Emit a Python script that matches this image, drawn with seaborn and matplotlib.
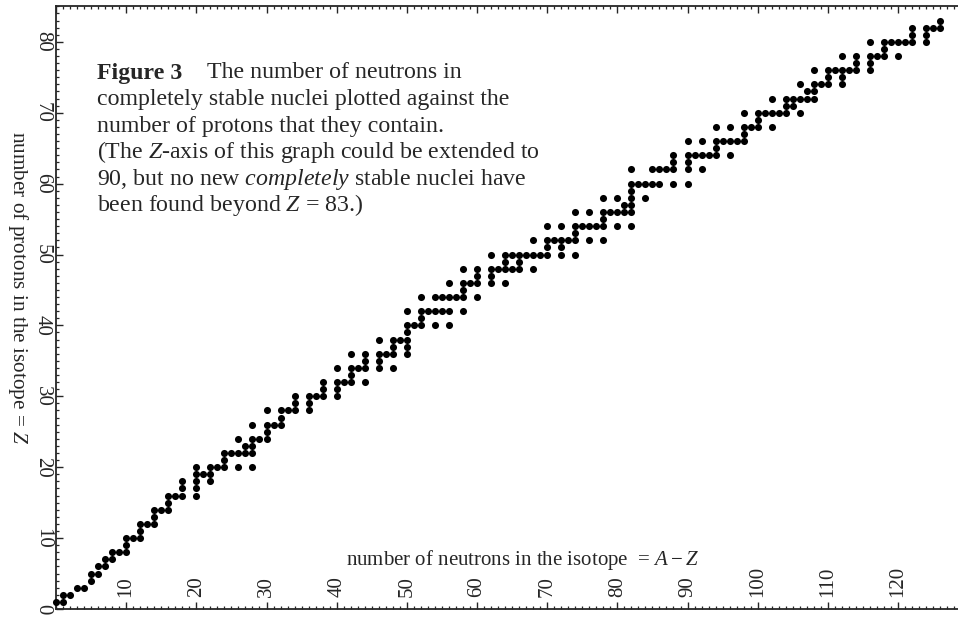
import matplotlib
matplotlib.use("Agg")
import matplotlib.pyplot as plt
from matplotlib.ticker import MultipleLocator
import pandas as pd
import seaborn as sns

sns.set_style("ticks")
plt.rcParams["font.family"] = ["Liberation Serif", "DejaVu Serif"]
plt.rcParams["mathtext.fontset"] = "custom"
plt.rcParams["mathtext.rm"] = "Liberation Serif"
plt.rcParams["mathtext.it"] = "Liberation Serif:italic"
plt.rcParams["mathtext.bf"] = "Liberation Serif:bold"

# ---------------------------------------------------------
# Data: proton number Z and the neutron numbers N of the
# (primordial) stable nuclei
# ---------------------------------------------------------
PROTONS = [1, 2, 3, 4, 5, 6, 7, 8, 9, 10, 11, 12, 13, 14, 15, 16, 17, 18, 19, 20,
           21, 22, 23, 24, 25, 26, 27, 28, 29, 30, 31, 32, 33, 34, 35, 36, 37, 38,
           39, 40, 41, 42, 44, 45, 46, 47, 48, 49, 50, 51, 52, 53, 54, 55, 56, 57,
           58, 59, 60, 62, 63, 64, 65, 66, 67, 68, 69, 70, 71, 72, 73, 74, 75, 76,
           77, 78, 79, 80, 81, 82, 83]

NEUTRONS = [
    [0, 1], [1, 2], [3, 4], [5], [5, 6], [6, 7], [7, 8], [8, 9, 10], [10],
    [10, 11, 12], [12], [12, 13, 14], [14], [14, 15, 16], [16], [16, 17, 18, 20],
    [18, 20], [18, 20, 22], [20, 21, 22], [20, 22, 23, 24, 26, 28],
    [24], [24, 25, 26, 27, 28], [27, 28], [26, 28, 29, 30], [30], [28, 30, 31, 32],
    [32], [30, 32, 33, 34, 36], [34, 36], [34, 36, 37, 38, 40], [38, 40],
    [38, 40, 41, 42, 44], [42], [40, 42, 43, 44, 46, 48], [44, 46],
    [42, 44, 46, 47, 48, 50], [48, 50], [46, 48, 49, 50],
    [50], [50, 51, 52, 54, 56], [52], [50, 52, 53, 54, 55, 56, 58],
    [52, 54, 55, 56, 57, 58, 60], [58], [56, 58, 59, 60, 62, 64], [60, 62],
    [58, 60, 62, 63, 64, 65, 66, 68], [64, 66],
    [62, 64, 65, 66, 67, 68, 69, 70, 72, 74], [70, 72],
    [68, 70, 71, 72, 73, 74, 76, 78], [74],
    [70, 72, 74, 75, 76, 77, 78, 80, 82], [78], [74, 76, 78, 79, 80, 81, 82], [81, 82],
    [78, 80, 82, 84], [82], [82, 83, 84, 85, 86, 88, 90], [82, 85, 86, 87, 88, 90, 92],
    [88, 90], [88, 90, 91, 92, 93, 94, 96], [94], [90, 92, 94, 95, 96, 97, 98], [98],
    [94, 96, 98, 99, 100, 102], [100], [98, 100, 101, 102, 103, 104, 106], [104, 105],
    [102, 104, 105, 106, 107, 108], [107, 108], [106, 108, 109, 110, 112], [110, 112],
    [108, 110, 111, 112, 113, 114, 116], [114, 116], [112, 114, 116, 117, 118, 120],
    [118], [116, 118, 119, 120, 121, 122, 124], [122, 124], [122, 124, 125, 126], [126],
]

X_TICKS = [0, 10, 20, 30, 40, 50, 60, 70, 80, 90, 100, 110, 120]
X_TICK_LABELS = ["", "10", "20", "30", "40", "50", "60", "70", "80", "90", "100", "110", "120"]
Y_TICKS = [0, 10, 20, 30, 40, 50, 60, 70, 80]
Y_TICK_LABELS = ["0", "10", "20", "30", "40", "50", "60", "70", "80"]

rows = [(n, z) for z, ns in zip(PROTONS, NEUTRONS) for n in ns]
df = pd.DataFrame(rows, columns=["neutrons", "protons"])

# ---------------------------------------------------------
# Figure
# ---------------------------------------------------------
W, H = 958, 617
fig = plt.figure(figsize=(W / 100, H / 100), dpi=100)
ax = fig.add_axes([56 / W, 8 / H, 902 / W, 603 / H])

sns.scatterplot(data=df, x="neutrons", y="protons", color="black", s=26,
                linewidth=0, clip_on=False, ax=ax, zorder=3)

ax.set_xlim(0, 902 / 7.017)
ax.set_ylim(0, 603 / 7.09)

for side in ["left", "bottom", "top"]:
    ax.spines[side].set_linewidth(1.3)
ax.spines["right"].set_visible(False)

ax.set_xticks(X_TICKS)
ax.set_xticklabels(X_TICK_LABELS)
ax.set_yticks(Y_TICKS)
ax.set_yticklabels(Y_TICK_LABELS)
ax.xaxis.set_minor_locator(MultipleLocator(1))
ax.yaxis.set_minor_locator(MultipleLocator(1))

ax.tick_params(which="both", direction="in", top=True, right=False, bottom=True, left=True)
ax.tick_params(which="major", length=5, width=1.0)
ax.tick_params(which="minor", length=2.5, width=0.9)
ax.tick_params(axis="x", labelsize=15, labelrotation=90, pad=-8.6)
ax.tick_params(axis="y", labelsize=15, labelrotation=-90, pad=3)
for lab in ax.get_xticklabels():
    lab.set_va("bottom")
for lab in ax.get_yticklabels():
    lab.set_va("center")

ax.set_xlabel(r"number of neutrons in the isotope  = $A - Z$", fontsize=15)
ax.xaxis.set_label_coords(0.517, 0.081)
ax.xaxis.label.set_va("center")

ax.set_ylabel(r"number of protons in the isotope = $Z$", fontsize=15.3, rotation=-90)
ax.yaxis.set_label_coords(-0.042, 0.532)
ax.yaxis.label.set_va("center")

# caption block inside the plot
CAPTION_LINES = [
    "completely stable nuclei plotted against the",
    "number of protons that they contain.",
    r"(The $\mathit{Z}$-axis of this graph could be extended to",
    r"90, but no new $\mathit{completely}$ stable nuclei have",
    r"been found beyond $\mathit{Z}$ = 83.)",
]
fs = 17.2
fig.text(97 / W, 1 - 78.5 / H, "Figure 3", fontsize=fs, fontweight="bold", va="baseline")
fig.text(207 / W, 1 - 78.5 / H, "The number of neutrons in", fontsize=fs, va="baseline")
for i, line in enumerate(CAPTION_LINES):
    fig.text(97 / W, 1 - (105.1 + 26.6 * i) / H, line, fontsize=fs, va="baseline")

fig.savefig("out.png", dpi=100)
